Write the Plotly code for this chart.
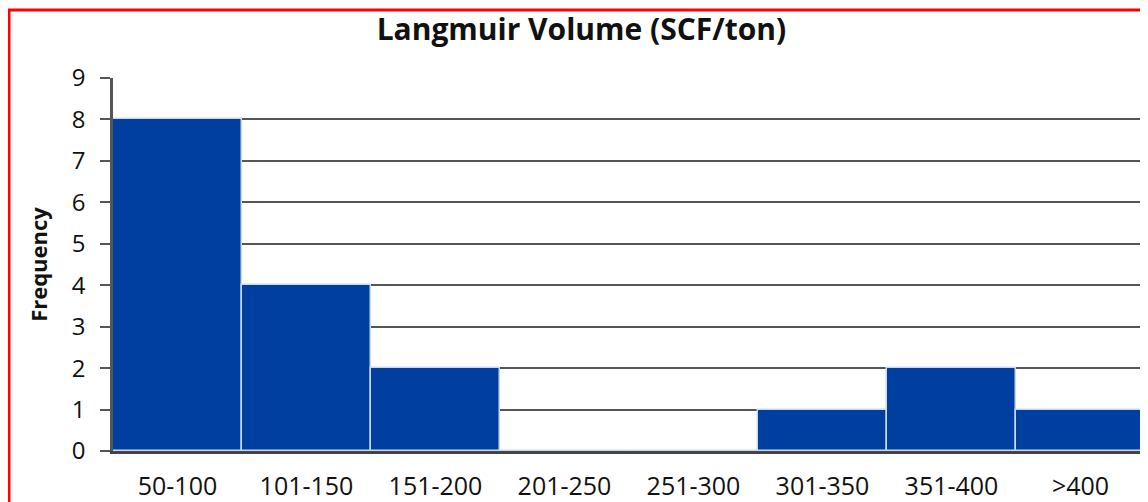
import plotly.graph_objects as go

# histogram bins and counts
bins = ["50-100", "101-150", "151-200", "201-250", "251-300", "301-350", "351-400", ">400"]
counts = [8, 4, 2, 0, 0, 1, 2, 1]
y_ticks = list(range(0, 10))

# page body has an 8px margin, so the figure is sized to fill the rest of the window
W, H = 1140, 494
L, R, T, B = 105, 3, 70, 51
FONT = "Open Sans"

fig = go.Figure(go.Bar(
    x=bins, y=counts,
    marker_color="#003f9f",
    marker_line_color="#c9d9f2", marker_line_width=1.5,
    showlegend=False,
))

# red frame round the figure (right and bottom edges fall outside the crop)
pw, ph = W - L - R, H - T - B
fig.add_shape(type="rect", xref="paper", yref="paper",
              x0=(1 - L) / pw, x1=(W + 40 - L) / pw,
              y0=-(B + 40) / ph, y1=(H - B - 2) / ph,
              line=dict(color="#ff0000", width=3), layer="below")

fig.update_layout(
    width=W, height=H,
    margin=dict(l=L, r=R, t=T, b=B),
    paper_bgcolor="white", plot_bgcolor="white",
    bargap=0,
    title=dict(text="<b>Langmuir Volume (SCF/ton)</b>", x=0.503, xanchor="center",
               y=1 - 21 / H, yanchor="middle",
               font=dict(family=FONT, size=30, color="#111")),
    font=dict(family=FONT, color="#111"),
)
fig.update_yaxes(
    range=[0, 9], tickvals=y_ticks, showgrid=True, gridcolor="#555", gridwidth=1.5,
    ticks="outside", ticklen=10, tickcolor="#555", tickwidth=1.5,
    showline=True, linecolor="#555", linewidth=2.5, zeroline=False,
    tickfont=dict(size=24, family=FONT), ticklabelstandoff=10, automargin=False,
    title=dict(text="<b>Frequency</b>", font=dict(size=22, family=FONT), standoff=19),
)
fig.update_xaxes(
    showline=True, linecolor="#444", linewidth=3, ticks="", automargin=False,
    tickfont=dict(size=25, family=FONT), ticklabelstandoff=11,
)

fig.write_html("out.html")
